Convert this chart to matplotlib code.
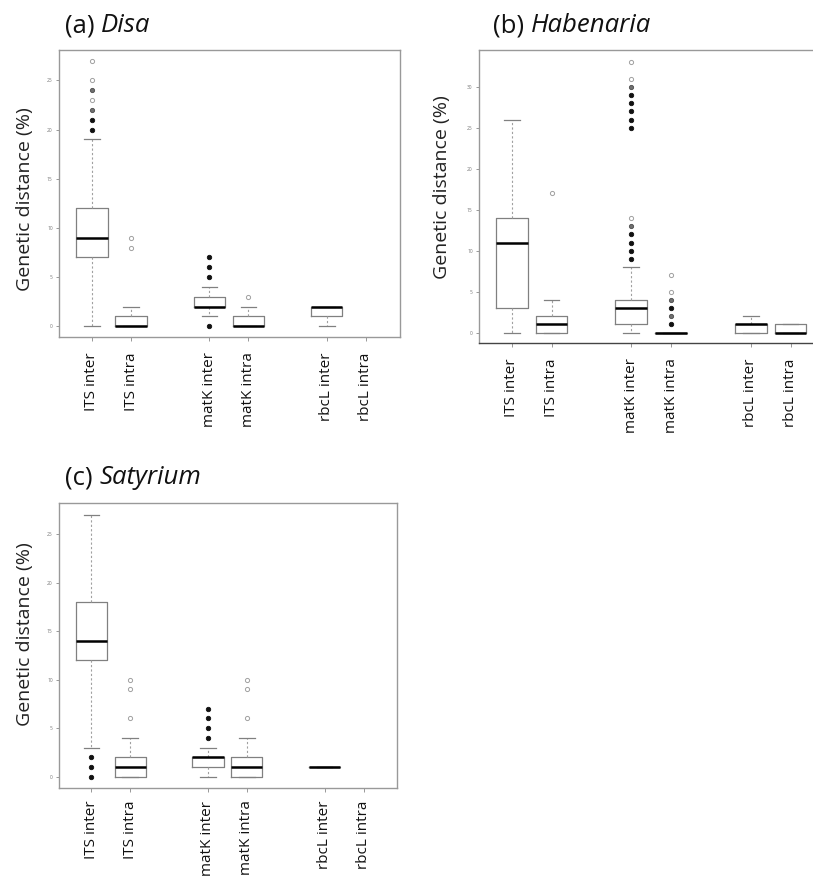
import numpy as np
import matplotlib
matplotlib.use("Agg")
import matplotlib.pyplot as plt

plt.rcParams['font.family'] = ['Open Sans', 'DejaVu Sans']

# categories shared by all panels
labels = ["ITS inter", "ITS intra", "matK inter", "matK intra", "rbcL inter", "rbcL intra"]
positions = [1, 2, 4, 5, 7, 8]

# (a) Disa  -- None = no box drawn
disa_q1 = [7, 0, 2, 0, 1, None]
disa_med = [9, 0, 2, 0, 2, None]
disa_q3 = [12, 1, 3, 1, 2, None]
disa_lo = [0, 0, 1, 0, 0, None]
disa_hi = [19, 2, 4, 2, 2, None]
disa_out = [[23, 25, 27], [8, 9], [], [3], [], []]
disa_out_mid = [[22, 24], [], [], [], [], []]
disa_out_dense = [[20, 21], [], [0, 5, 6, 7], [], [], []]

# (b) Habenaria
hab_q1 = [3, 0, 1, 0, 0, 0]
hab_med = [11, 1, 3, 0, 1, 0]
hab_q3 = [14, 2, 4, 0, 1, 1]
hab_lo = [0, 0, 0, 0, 0, 0]
hab_hi = [26, 4, 8, 0, 2, 1]
hab_out = [[], [17], [14, 31, 33], [5, 7], [], []]
hab_out_mid = [[], [], [13, 30], [2, 4], [], []]
hab_out_dense = [[], [], [9, 10, 11, 12, 25, 26, 27, 28, 29], [1, 3], [], []]

# (c) Satyrium
sat_q1 = [12, 0, 1, 0, 1, None]
sat_med = [14, 1, 2, 1, 1, None]
sat_q3 = [18, 2, 2, 2, 1, None]
sat_lo = [3, 0, 0, 0, 1, None]
sat_hi = [27, 4, 3, 4, 1, None]
sat_out = [[], [6, 9, 10], [], [6, 9, 10], [], []]
sat_out_mid = [[], [], [], [], [], []]
sat_out_dense = [[0, 1, 2], [], [4, 5, 6, 7], [], [], []]

W, H = 813, 876
fig = plt.figure(figsize=(W / 100, H / 100), dpi=100)
fig.patch.set_facecolor('white')


def px_axes(l, t, r, b):
    return fig.add_axes([l / W, 1 - b / H, (r - l) / W, (b - t) / H])


def panel(ax, q1, med, q3, lo, hi, out, out_mid, out_dense, yticks, ylim, xlim):
    stats, pos = [], []
    for i in range(len(labels)):
        if q1[i] is None:
            continue
        stats.append(dict(med=med[i], q1=q1[i], q3=q3[i], whislo=lo[i], whishi=hi[i], fliers=out[i]))
        pos.append(positions[i])
    ax.bxp(stats, positions=pos, widths=0.8, showfliers=True,
           boxprops=dict(color='#808080', lw=0.9),
           whiskerprops=dict(color='#a0a0a0', lw=0.8, linestyle=(0, (2, 2))),
           capprops=dict(color='#808080', lw=0.9),
           medianprops=dict(color='black', lw=1.8),
           flierprops=dict(marker='o', markersize=3.0, markerfacecolor='none',
                           markeredgecolor='#a0a0a0', markeredgewidth=0.7))
    for i in range(len(labels)):
        if out_mid[i]:
            ax.plot([positions[i]] * len(out_mid[i]), out_mid[i], 'o', ms=3.0,
                    mfc='#707070', mec='#555555', mew=0.7, ls='none')
        if out_dense[i]:
            ax.plot([positions[i]] * len(out_dense[i]), out_dense[i], 'o', ms=3.2,
                    mfc='#111111', mec='#111111', mew=0.6, ls='none')
    ax.set_xticks(positions)
    ax.set_xticklabels(labels, rotation=90, fontsize=11, va='top', color='#111111')
    ax.set_yticks(yticks)
    ax.set_yticklabels([str(v) for v in yticks], fontsize=3.5, color='#777777')
    ax.tick_params(axis='y', length=2.5, width=0.6, color='#888888', pad=2)
    ax.tick_params(axis='x', length=3, width=0.6, color='#888888', pad=8)
    ax.set_xlim(*xlim)
    ax.set_ylim(*ylim)
    for s in ax.spines.values():
        s.set_color('#999999')
        s.set_linewidth(1.0)


ax_a = px_axes(59, 50, 400, 337)
panel(ax_a, disa_q1, disa_med, disa_q3, disa_lo, disa_hi, disa_out, disa_out_mid, disa_out_dense,
      [0, 5, 10, 15, 20, 25], (-1.1, 28.1), (0.16, 8.87))

ax_b = px_axes(479, 50, 820, 343)
panel(ax_b, hab_q1, hab_med, hab_q3, hab_lo, hab_hi, hab_out, hab_out_mid, hab_out_dense,
      [0, 5, 10, 15, 20, 25, 30], (-1.26, 34.5), (0.18, 8.74))
ax_b.spines['right'].set_visible(False)
ax_b.spines['bottom'].set_color('#444444')

ax_c = px_axes(59, 503, 397, 788)
panel(ax_c, sat_q1, sat_med, sat_q3, sat_lo, sat_hi, sat_out, sat_out_mid, sat_out_dense,
      [0, 5, 10, 15, 20, 25], (-1.17, 28.2), (0.17, 8.86))
ax_c.tick_params(axis='x', pad=6)

# y labels
for x, y in [(25, 199), (442, 187), (25, 634)]:
    fig.text(x / W, 1 - y / H, "Genetic distance (%)", rotation=90,
             ha='center', va='center', fontsize=14, color='#222222')

# panel titles: "(a) " upright + genus in italics
fig.canvas.draw()
renderer = fig.canvas.get_renderer()
for x, y, tag, genus in [(65, 26, "(a)", "Disa"), (493, 26, "(b)", "Habenaria"), (65, 478, "(c)", "Satyrium")]:
    t = fig.text(x / W, 1 - y / H, tag + " ", ha='left', va='center', fontsize=18.5, color='#111111')
    bb = t.get_window_extent(renderer)
    fig.text(bb.x1 / W, 1 - y / H, genus, ha='left', va='center', fontsize=18.5,
             style='italic', color='#111111')

fig.savefig("out.png", dpi=100, facecolor='white')
